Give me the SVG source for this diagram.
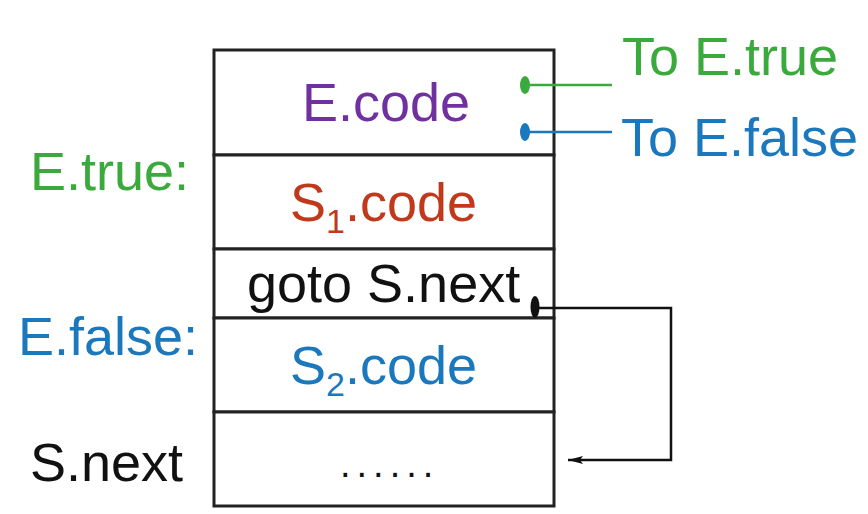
<svg xmlns="http://www.w3.org/2000/svg" width="868" height="514" viewBox="0 0 868 514">
<style>
text{font-family:"Liberation Sans",Arial,sans-serif;font-size:54px}
.cell{fill:#fff;stroke:#222;stroke-width:3}
.g{fill:#3aaa3c}.b{fill:#1b78bd}.p{fill:#7030a0}.r{fill:#c0391b}.k{fill:#111}
.sub{font-size:34px}
</style>
<defs>
<marker id="ah" markerWidth="16" markerHeight="10" refX="15" refY="5" orient="auto" markerUnits="userSpaceOnUse">
<path d="M0,1 L15,5 L0,9 L3,5 Z" fill="#111"/>
</marker>
</defs>
<rect width="868" height="514" fill="#fff"/>
<g id="ecode"><rect class="cell" x="214" y="50" width="340" height="105"/><text class="p" x="302" y="121">E.code</text></g>
<g id="s1code"><rect class="cell" x="214" y="155" width="340" height="94"/><text class="r" x="290" y="221">S<tspan class="sub" dy="12">1</tspan><tspan dy="-12">.code</tspan></text></g>
<g id="goto"><rect class="cell" x="214" y="249" width="340" height="69"/><text class="k" x="247" y="302">goto S.next</text></g>
<g id="s2code"><rect class="cell" x="214" y="318" width="340" height="94"/><text class="b" x="290" y="384">S<tspan class="sub" dy="12">2</tspan><tspan dy="-12">.code</tspan></text></g>
<g id="snext"><rect class="cell" x="214" y="412" width="340" height="94"/><text class="k" x="340" y="477" style="font-size:38px;letter-spacing:6px">......</text></g>
<g id="labels">
<text class="g" x="30" y="190">E.true:</text>
<text class="b" x="18" y="355">E.false:</text>
<text class="k" x="30" y="481">S.next</text>
<text class="g" x="622" y="75">To E.true</text>
<text class="b" x="621" y="156">To E.false</text>
</g>
<g id="connectors">
<line x1="525" y1="85" x2="612" y2="85" stroke="#3aaa3c" stroke-width="2.5"/>
<ellipse cx="525" cy="85" rx="5" ry="9" fill="#3aaa3c"/>
<line x1="525" y1="132" x2="612" y2="132" stroke="#1b78bd" stroke-width="2.5"/>
<ellipse cx="525" cy="132" rx="5" ry="9" fill="#1b78bd"/>
<ellipse cx="535" cy="307" rx="4.5" ry="11" fill="#111"/>
<path d="M535,308 H671 V460 H568" fill="none" stroke="#111" stroke-width="2.5" marker-end="url(#ah)"/>
</g>
</svg>
